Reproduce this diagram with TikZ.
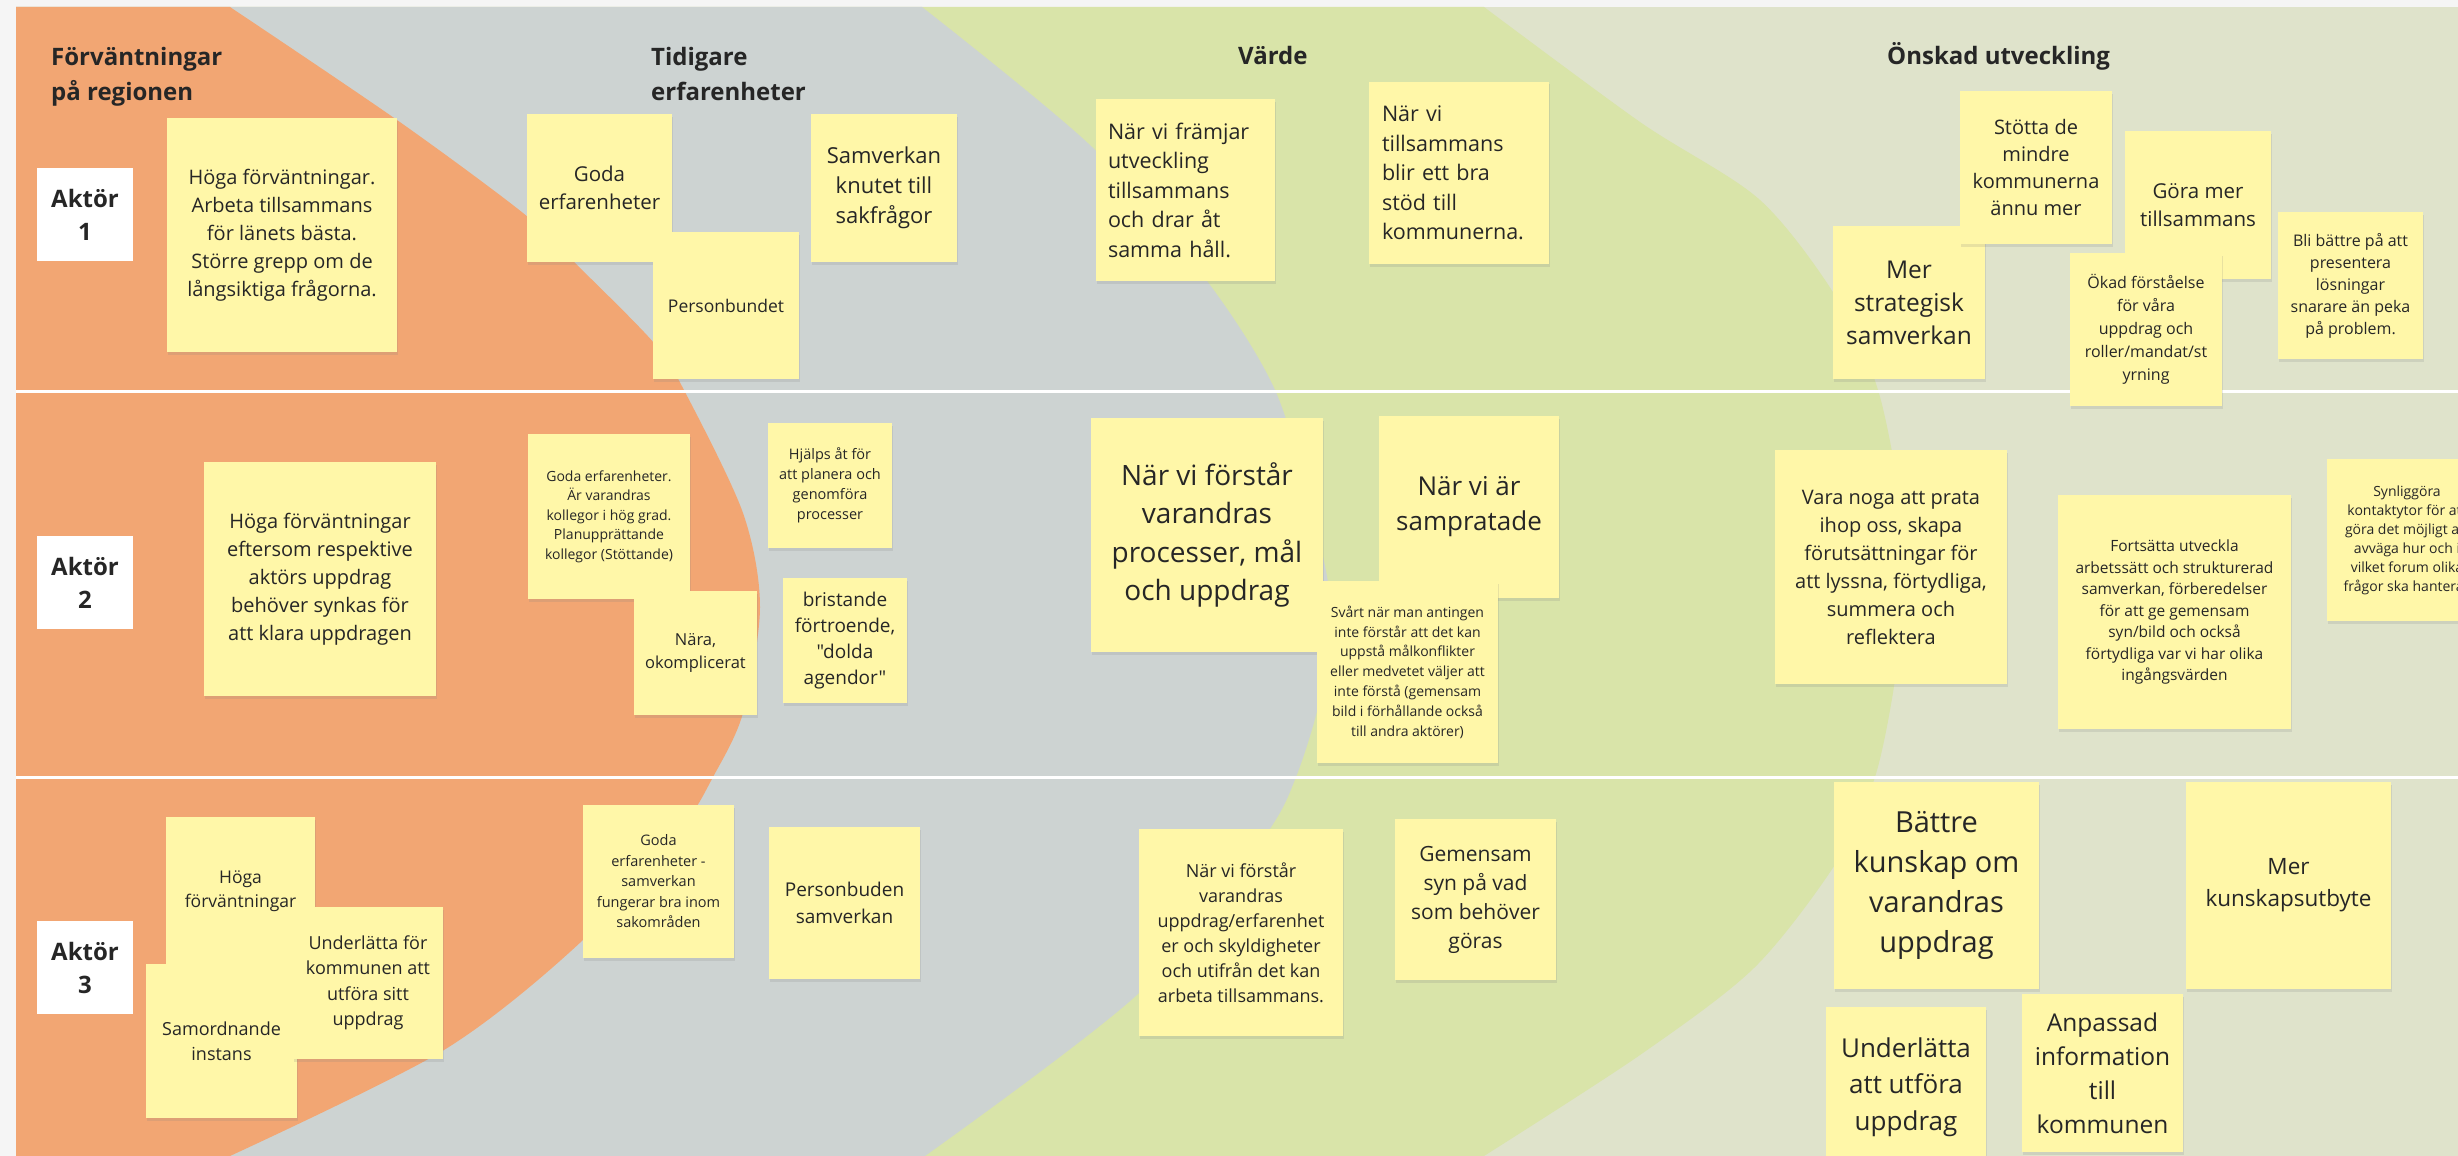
\documentclass[tikz,border=0pt]{standalone}
\usepackage{fontspec}
\setmainfont{Open Sans}[Ligatures=TeXOff]
\usetikzlibrary{shadows}
\definecolor{bgc}{HTML}{F5F5F5}
\definecolor{orng}{HTML}{F2A673}
\definecolor{gry}{HTML}{CDD3D2}
\definecolor{grn}{HTML}{D9E4A9}
\definecolor{olv}{HTML}{DFE3CB}
\definecolor{stk}{HTML}{FFF7A8}
\definecolor{txt}{HTML}{262626}
\newcommand{\fsz}[2]{\fontsize{#1pt}{#2pt}\selectfont}
\begin{document}
\begin{tikzpicture}[x=1pt,y=-1pt,
  note/.style={fill=stk, inner sep=0pt, align=center, text=txt,
    drop shadow={opacity=0.18, shadow xshift=1pt, shadow yshift=-2.5pt}},
  hdr/.style={font=\bfseries\fsz{24}{35}, text=txt, align=left, anchor=base west, inner sep=0pt},
  aktor/.style={fill=white, minimum width=96pt, minimum height=93pt, inner sep=0pt,
    font=\bfseries\fsz{24}{33}, align=center, text=txt},
  sep/.style={white, line width=3pt}
]
\useasboundingbox (0,0) rectangle (2458,1156);
\clip (0,0) rectangle (2458,1156);
\fill[bgc] (0,0) rectangle (2458,1156);
% regions
\fill[olv] (16,7) rectangle (2458,1156);
\fill[grn] (16,7) -- plot[smooth] coordinates {(1484,7) (1640,122) (1760,200) (1838,300) (1878,390) (1900,500) (1905,580) (1895,680) (1875,777) (1838,860) (1755,967) (1640,1055) (1484,1156)} -- (16,1156) -- cycle;
\fill[gry] (16,7) -- plot[smooth] coordinates {(922,7) (1092,147) (1207,281) (1275,390) (1312,513) (1330,600) (1322,690) (1296,777) (1262,840) (1139,993) (925,1156)} -- (16,1156) -- cycle;
\fill[orng] (16,7) -- plot[smooth] coordinates {(230,7) (397,120) (523,213) (575,263) (654,343) (685,392) (743,513) (760,607) (743,713) (713,777) (680,830) (583,940) (444,1050) (230,1156)} -- (16,1156) -- cycle;
% row separators
\coordinate (s1a) at (16,391); \coordinate (s1b) at (2458,391);
\coordinate (s2a) at (16,777); \coordinate (s2b) at (2458,777);
\draw[sep] (s1a) -- (s1b);
\draw[sep] (s2a) -- (s2b);
% headers
\node[hdr] (h1) at (51,100) {Förväntningar\\på regionen};
\node[hdr] (h2) at (651,100) {Tidigare\\erfarenheter};
\node[hdr] (h3) at (1238,65) {Värde};
\node[hdr] (h4) at (1887,65) {Önskad utveckling};
% actors
\node[aktor] (a1) at (85,214.5) {Aktör\\1};
\node[aktor] (a2) at (85,582.5) {Aktör\\2};
\node[aktor] (a3) at (85,967.5) {Aktör\\3};
% row 1
\node[note, minimum width=230pt, minimum height=234pt, font=\fsz{20}{28}] (n1) at (282,235) {Höga förväntningar.\\Arbeta tillsammans\\för länets bästa.\\Större grepp om de\\långsiktiga frågorna.};
\node[note, minimum width=145pt, minimum height=148pt, font=\fsz{20.5}{28}] (n2) at (599.5,188) {Goda\\erfarenheter};
\node[note, minimum width=146pt, minimum height=147pt, font=\fsz{17.5}{24}] (n3) at (726,305.5) {Personbundet};
\node[note, minimum width=146pt, minimum height=148pt, font=\fsz{22}{30}] (n4) at (884,188) {Samverkan\\knutet till\\sakfrågor};
\node[note, minimum width=179pt, minimum height=182pt, text width=155pt, align=left, font=\fsz{21.5}{29.5}] (n5) at (1185.5,190) {När vi främjar\\utveckling\\tillsammans\\och drar åt\\samma håll.};
\node[note, minimum width=180pt, minimum height=182pt, text width=154pt, align=left, font=\fsz{21.5}{29.5}] (n6) at (1459,173) {När vi\\tillsammans\\blir ett bra\\stöd till\\kommunerna.};
\node[note, minimum width=152pt, minimum height=153pt, font=\fsz{24.5}{33}] (n9) at (1909,302.5) {Mer\\strategisk\\samverkan};
\node[note, minimum width=152pt, minimum height=153pt, font=\fsz{20}{27}] (n7) at (2036,167.5) {Stötta de\\mindre\\kommunerna\\ännu mer};
\node[note, minimum width=146pt, minimum height=148pt, font=\fsz{20.5}{28}] (n8) at (2198,205) {Göra mer\\tillsammans};
\node[note, minimum width=152pt, minimum height=153pt, font=\fsz{16}{23}] (n10) at (2146,329.5) {Ökad förståelse\\för våra\\uppdrag och\\roller/mandat/st\\yrning};
\node[note, minimum width=145pt, minimum height=147pt, font=\fsz{16}{22}] (n11) at (2350.5,285.5) {Bli bättre på att\\presentera\\lösningar\\snarare än peka\\på problem.};
% row 2
\node[note, minimum width=232pt, minimum height=234pt, font=\fsz{20}{28}] (n12) at (320,579) {Höga förväntningar\\eftersom respektive\\aktörs uppdrag\\behöver synkas för\\att klara uppdragen};
\node[note, minimum width=162pt, minimum height=165pt, font=\fsz{14}{19.5}] (n13) at (609,516.5) {Goda erfarenheter.\\Är varandras\\kollegor i hög grad.\\Planupprättande\\kollegor (Stöttande)};
\node[note, minimum width=123pt, minimum height=124pt, font=\fsz{16.5}{23}] (n14) at (695.5,653) {Nära,\\okomplicerat};
\node[note, minimum width=124pt, minimum height=125pt, font=\fsz{14.5}{20}] (n15) at (830,485.5) {Hjälps åt för\\att planera och\\genomföra\\processer};
\node[note, minimum width=124pt, minimum height=125pt, font=\fsz{19}{26}] (n16) at (845,640.5) {bristande\\förtroende,\\"dolda\\agendor"};
\node[note, minimum width=232pt, minimum height=234pt, font=\fsz{28}{38.5}] (n17) at (1207,535) {När vi förstår\\varandras\\processer, mål\\och uppdrag};
\node[note, minimum width=180pt, minimum height=182pt, font=\fsz{26}{35}] (n18) at (1469,507) {När vi är\\sampratade};
\node[note, minimum width=181pt, minimum height=182pt, font=\fsz{14}{19.8}] (n19) at (1407.5,672) {Svårt när man antingen\\inte förstår att det kan\\uppstå målkonflikter\\eller medvetet väljer att\\inte förstå (gemensam\\bild i förhållande också\\till andra aktörer)};
\node[note, minimum width=232pt, minimum height=234pt, font=\fsz{20}{28}] (n20) at (1891,567) {Vara noga att prata\\ihop oss, skapa\\förutsättningar för\\att lyssna, förtydliga,\\summera och\\reflektera};
\node[note, minimum width=233pt, minimum height=234pt, font=\fsz{15.5}{21.5}] (n21) at (2174.5,612) {Fortsätta utveckla\\arbetssätt och strukturerad\\samverkan, förberedelser\\för att ge gemensam\\syn/bild och också\\förtydliga var vi har olika\\ingångsvärden};
\node[note, minimum width=160pt, minimum height=162pt, font=\fsz{14}{19}] (n22) at (2407,540) {Synliggöra\\kontaktytor för att\\göra det möjligt att\\avväga hur och i\\vilket forum olika\\frågor ska hanteras};
% row 3
\node[note, minimum width=149pt, minimum height=148pt, font=\fsz{17.5}{24.5}] (n23) at (240.5,891) {Höga\\förväntningar};
\node[note, minimum width=151pt, minimum height=154pt, font=\fsz{18}{25}] (n24) at (221.5,1041) {Samordnande\\instans};
\node[note, minimum width=150pt, minimum height=152pt, font=\fsz{18}{25.5}] (n25) at (368,983) {Underlätta för\\kommunen att\\utföra sitt\\uppdrag};
\node[note, minimum width=151pt, minimum height=153pt, font=\fsz{14.5}{20.5}] (n26) at (658.5,881.5) {Goda\\erfarenheter -\\samverkan\\fungerar bra inom\\sakområden};
\node[note, minimum width=151pt, minimum height=152pt, font=\fsz{19}{27}] (n27) at (844.5,903) {Personbuden\\samverkan};
\node[note, minimum width=204pt, minimum height=207pt, font=\fsz{18}{25}] (n28) at (1241,932.5) {När vi förstår\\varandras\\uppdrag/erfarenhet\\er och skyldigheter\\och utifrån det kan\\arbeta tillsammans.};
\node[note, minimum width=161pt, minimum height=161pt, font=\fsz{21}{29}] (n29) at (1475.5,899.5) {Gemensam\\syn på vad\\som behöver\\göras};
\node[note, minimum width=205pt, minimum height=207pt, font=\fsz{29}{40}] (n30) at (1936.5,885.5) {Bättre\\kunskap om\\varandras\\uppdrag};
\node[note, minimum width=205pt, minimum height=207pt, font=\fsz{22.5}{32}] (n31) at (2288.5,885.5) {Mer\\kunskapsutbyte};
\node[note, minimum width=160pt, minimum height=160pt, font=\fsz{26}{36.5}] (n32) at (1906,1087) {Underlätta\\att utföra\\uppdrag};
\node[note, minimum width=161pt, minimum height=158pt, font=\fsz{24.5}{34}] (n33) at (2102.5,1073) {Anpassad\\information\\till\\kommunen};
\end{tikzpicture}
\end{document}
